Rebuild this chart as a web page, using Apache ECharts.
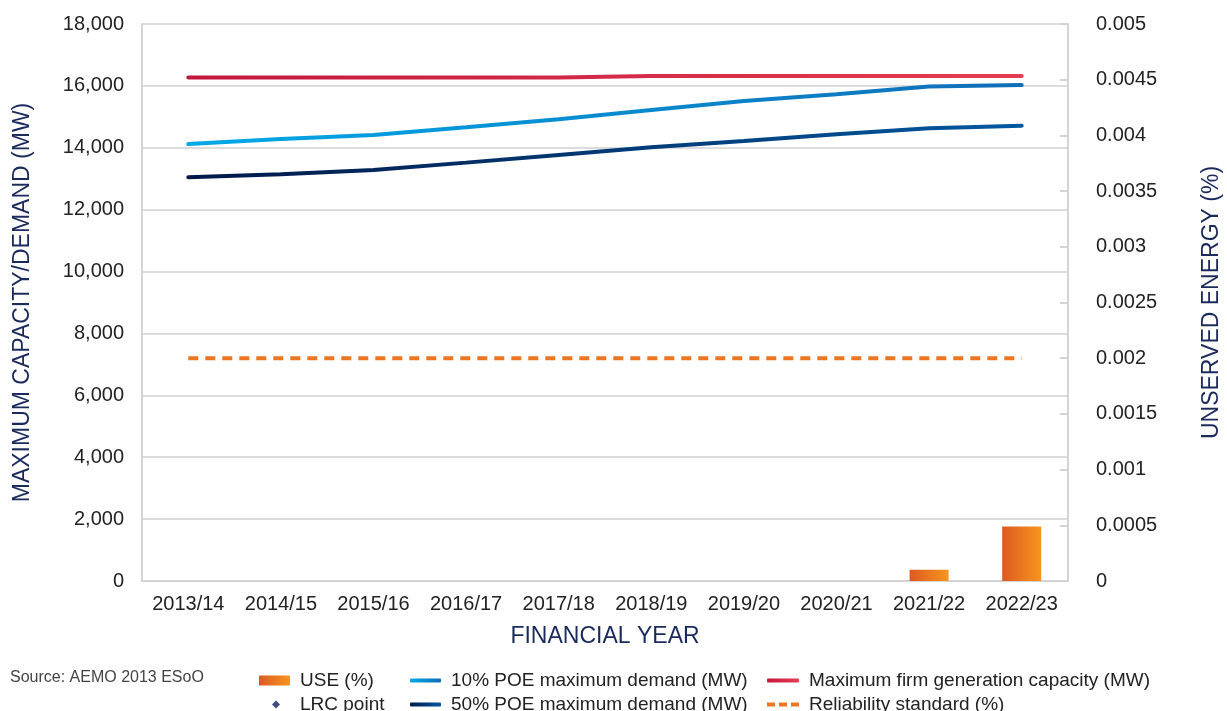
<!DOCTYPE html>
<html lang="en">
<head>
    <meta charset="UTF-8">
    <title>ESoO capacity vs demand</title>
    <script src="https://cdn.jsdelivr.net/npm/echarts@6/dist/echarts.min.js"></script>
    <style type="text/css">
        body {
            margin: 0;
            padding: 0;
            background-color: #fff;
        }

        #chart {
            width: 1227px;
            height: 711px;
        }
    </style>
</head>
<body>
<div id="chart"></div>

<script>
    // data
    var years = ["2013/14", "2014/15", "2015/16", "2016/17", "2017/18",
        "2018/19", "2019/20", "2020/21", "2021/22", "2022/23"];
    var useValues = [null, null, null, null, null, null, null, null, 0.0001, 0.00049];
    var lrcPoints = [];
    var poe10 = [14120, 14280, 14410, 14660, 14920, 15220, 15510, 15730, 15980, 16030];
    var poe50 = [13050, 13145, 13280, 13520, 13770, 14020, 14220, 14440, 14630, 14715];
    var firmCapacity = [16270, 16270, 16270, 16270, 16270, 16320, 16320, 16320, 16320, 16320];
    var reliability = [0.002, 0.002, 0.002, 0.002, 0.002, 0.002, 0.002, 0.002, 0.002, 0.002];

    var FONT = "'Liberation Sans', Arial, sans-serif";
    var NAVY = "#1b2a5c";

    function hGrad(c1, c2) {
        return new echarts.graphic.LinearGradient(0, 0, 1, 0, [
            {offset: 0, color: c1},
            {offset: 1, color: c2}
        ]);
    }

    var useColor = hGrad("#dc5a21", "#f7951d");
    var poe10Color = hGrad("#00a9e8", "#106db7");
    var poe50Color = hGrad("#001848", "#0058a0");
    var firmColor = hGrad("#c2163d", "#e63c53");
    var relColor = "#ee7623";

    // one legend box per entry so the 3x2 layout matches the original
    function legendItem(name, left, top, w, h, icon, color, textPad) {
        return {
            left: left, top: top, padding: 0,
            itemWidth: w, itemHeight: h,
            textStyle: {fontFamily: FONT, fontSize: 19, color: "#222", padding: [0, 0, 0, textPad || 5]},
            data: [{name: name, icon: icon, itemStyle: {color: color, borderWidth: 0}}]
        };
    }

    var row1 = 671, row2 = 695;
    var dashIcon = "path://M0,0h8v4h-8z M12,0h8v4h-8z M24,0h8v4h-8z";

    var chart = echarts.init(document.getElementById("chart"));

    var option = {
        animation: false,
        textStyle: {fontFamily: FONT},
        grid: {left: 142, right: 159, top: 24, bottom: 130, outerBoundsMode: "none"},
        graphic: [{
            type: "text",
            left: 10,
            top: 670,
            style: {text: "Source: AEMO 2013 ESoO", fill: "#444", font: "16px " + FONT}
        }],
        legend: [
            legendItem("USE (%)", 259, row1, 31, 10, "rect", useColor),
            legendItem("LRC point", 272, row2, 8, 8, "diamond", "#0b1f5a", 15),
            legendItem("10% POE maximum demand (MW)", 410, row1, 31, 4, "roundRect", poe10Color),
            legendItem("50% POE maximum demand (MW)", 410, row2, 31, 4, "roundRect", poe50Color),
            legendItem("Maximum firm generation capacity (MW)", 767, row1, 32, 4, "roundRect", firmColor),
            legendItem("Reliability standard (%)", 767, row2, 32, 4, dashIcon, relColor)
        ],
        xAxis: {
            type: "category",
            data: years,
            name: "FINANCIAL YEAR",
            nameLocation: "middle",
            nameGap: 44,
            nameTextStyle: {color: NAVY, fontSize: 23, fontFamily: FONT},
            axisLine: {lineStyle: {color: "#d4d4d4", width: 2}},
            axisTick: {inside: true, length: 9, lineStyle: {color: "#d4d4d4", width: 2}},
            axisLabel: {color: "#222", fontSize: 20, margin: 13, interval: 0}
        },
        yAxis: [
            {
                type: "value",
                min: 0, max: 18000, interval: 2000,
                name: "MAXIMUM CAPACITY/DEMAND (MW)",
                nameLocation: "middle",
                nameGap: 108,
                nameTextStyle: {color: NAVY, fontSize: 23, fontFamily: FONT},
                axisLine: {show: true, lineStyle: {color: "#d4d4d4", width: 2}},
                axisTick: {show: false},
                axisLabel: {
                    color: "#222", fontSize: 20, margin: 18,
                    formatter: function (v) { return v.toLocaleString("en-US"); }
                },
                splitLine: {lineStyle: {color: "#dcdcdc", width: 2}}
            },
            {
                type: "value",
                min: 0, max: 0.005, interval: 0.0005,
                name: "UNSERVED ENERGY (%)",
                nameLocation: "middle",
                nameGap: 132,
                nameTextStyle: {color: NAVY, fontSize: 23, fontFamily: FONT},
                axisLine: {show: true, lineStyle: {color: "#d4d4d4", width: 2}},
                axisTick: {show: true, inside: true, length: 8, lineStyle: {color: "#d4d4d4", width: 2}},
                axisLabel: {
                    color: "#222", fontSize: 20, margin: 28, align: "left",
                    formatter: function (v) { return String(+v.toFixed(4)); }
                },
                splitLine: {show: false}
            }
        ],
        series: [
            {
                name: "USE (%)",
                type: "bar",
                yAxisIndex: 1,
                barWidth: 39,
                data: useValues,
                itemStyle: {color: useColor}
            },
            {
                name: "LRC point",
                type: "scatter",
                symbol: "diamond",
                symbolSize: 8,
                data: lrcPoints,
                itemStyle: {color: "#0b1f5a"}
            },
            {
                name: "Reliability standard (%)",
                type: "line",
                yAxisIndex: 1,
                symbol: "none",
                data: reliability,
                itemStyle: {color: relColor},
                lineStyle: {color: relColor, width: 4, type: [10, 7], cap: "butt"}
            },
            {
                name: "50% POE maximum demand (MW)",
                type: "line",
                symbol: "none",
                data: poe50,
                itemStyle: {color: "#00286a"},
                lineStyle: {color: poe50Color, width: 4, cap: "round"}
            },
            {
                name: "10% POE maximum demand (MW)",
                type: "line",
                symbol: "none",
                data: poe10,
                itemStyle: {color: "#0a8fd4"},
                lineStyle: {color: poe10Color, width: 4, cap: "round"}
            },
            {
                name: "Maximum firm generation capacity (MW)",
                type: "line",
                symbol: "none",
                data: firmCapacity,
                itemStyle: {color: "#c8183f"},
                lineStyle: {color: firmColor, width: 4, cap: "round"}
            }
        ]
    };

    chart.setOption(option);
</script>
</body>
</html>
